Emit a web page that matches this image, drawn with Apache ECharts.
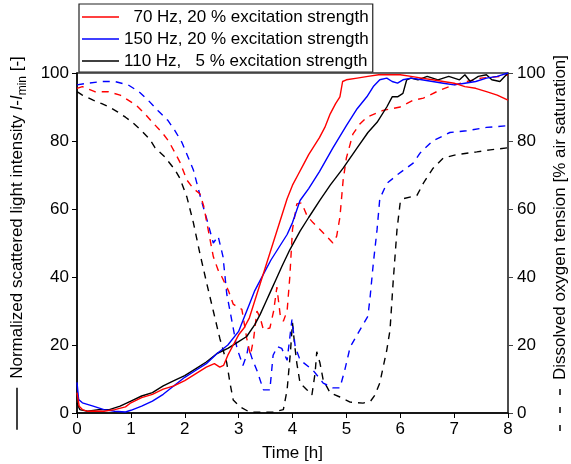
<!DOCTYPE html>
<html lang="en">
<head>
    <meta charset="utf-8">
    <title>Scattered light and DOT</title>
    <script src="https://cdn.jsdelivr.net/npm/echarts/dist/echarts.min.js"></script>
    <style>
        html, body { margin: 0; padding: 0; background: #fff; }
    </style>
</head>
<body>
<div id="main" style="width: 571px;height:464px;"></div>
<script>
    // scattered light, 70 Hz / 20 %
    var light70T = [0, 0.04, 0.1, 0.2, 0.3, 0.5, 0.7, 0.9, 1.0, 1.2, 1.4, 1.6, 1.8, 2.0, 2.2, 2.4, 2.55, 2.65, 2.72, 2.8, 2.9, 3.0, 3.1, 3.2, 3.3, 3.4, 3.5, 3.6, 3.7, 3.8, 3.9, 4.0, 4.1, 4.2, 4.3, 4.4, 4.5, 4.6, 4.7, 4.8, 4.88, 4.93, 5.0, 5.2, 5.4, 5.6, 5.8, 6.0, 6.2, 6.4, 6.6, 6.8, 7.0, 7.2, 7.4, 7.6, 7.8, 8.0];
    var light70V = [6, 2, 1, 0.5, 0.6, 0.5, 1, 1.8, 3, 4.5, 5.5, 7, 8, 9.5, 11.5, 13.5, 14.5, 13.5, 14, 17, 20, 23, 25, 28, 33, 38, 43, 48, 53, 58, 63, 67, 70, 73, 76, 78.5, 81, 84, 88, 91, 93, 97.5, 98, 98.5, 99, 99.5, 99.5, 99.5, 99, 98.5, 98, 97.5, 97, 96, 95.5, 94.5, 93.5, 92];

    // scattered light, 150 Hz / 20 %
    var light150T = [0, 0.03, 0.1, 0.3, 0.5, 0.7, 0.9, 1.0, 1.2, 1.4, 1.6, 1.8, 2.0, 2.2, 2.4, 2.6, 2.8, 3.0, 3.1, 3.2, 3.3, 3.4, 3.5, 3.6, 3.7, 3.8, 3.9, 4.0, 4.14, 4.3, 4.5, 4.75, 5.0, 5.2, 5.38, 5.5, 5.62, 5.75, 5.85, 5.95, 6.05, 6.2, 6.4, 6.6, 6.8, 7.0, 7.2, 7.4, 7.6, 7.8, 8.0];
    var light150V = [9, 4, 3, 2, 1, 0.5, 0.3, 0.8, 2, 3.5, 5.5, 8, 10.5, 12.5, 14.5, 17.5, 20, 24, 28, 32, 36, 39, 42, 45, 47.5, 50, 52.5, 56, 62.5, 66, 71, 78, 84.5, 89.5, 93, 96, 98, 98.5, 97.5, 97, 98, 98.5, 98, 97.5, 97, 96.5, 97, 97.5, 98.5, 99, 100];

    // scattered light, 110 Hz / 5 %
    var light110T = [0, 0.05, 0.2, 0.4, 0.6, 0.8, 1.0, 1.2, 1.4, 1.6, 1.8, 2.0, 2.2, 2.4, 2.6, 2.8, 3.0, 3.15, 3.3, 3.4, 3.5, 3.6, 3.7, 3.8, 3.95, 4.14, 4.3, 4.51, 4.7, 4.94, 5.2, 5.4, 5.57, 5.75, 5.85, 5.95, 6.05, 6.12, 6.2, 6.33, 6.5, 6.7, 6.9, 7.1, 7.2, 7.3, 7.45, 7.6, 7.7, 7.85, 8.0];
    var light110V = [3, 1, 0.5, 1, 1, 2, 3.5, 5, 6, 8, 9.5, 11, 13, 15, 17.5, 19, 21, 22.5, 26, 29, 32.5, 36, 39.5, 43, 48, 53.5, 57.5, 62.6, 67, 72, 78, 82.5, 85.5, 90, 93, 93, 94, 98, 98.5, 98, 99, 98, 99, 98, 99.5, 97.5, 99, 99.5, 98, 97.5, 100];

    // dissolved oxygen tension, 70 Hz / 20 %
    var dot70T = [0, 0.1, 0.33, 0.58, 0.8, 0.95, 1.1, 1.26, 1.4, 1.58, 1.7, 1.82, 1.91, 2.04, 2.16, 2.28, 2.35, 2.41, 2.53, 2.62, 2.69, 2.81, 2.9, 3.0, 3.06, 3.15, 3.22, 3.28, 3.34, 3.4, 3.46, 3.58, 3.65, 3.71, 3.77, 3.83, 3.9, 3.95, 4.0, 4.08, 4.17, 4.27, 4.38, 4.51, 4.63, 4.75, 4.82, 4.88, 4.94, 5.0, 5.12, 5.25, 5.38, 5.68, 6.0, 6.24, 6.43, 6.74, 7.0, 7.24, 7.5, 7.85, 8.0];
    var dot70V = [95.5, 96, 94.5, 94.5, 93.5, 92, 90.5, 88, 85.5, 82.5, 80, 76.5, 73.8, 68.5, 66, 64.5, 61, 56, 46, 42, 40, 36, 32, 31, 30.5, 22, 17, 22, 30, 28, 24.5, 25, 30, 37, 29, 27, 30, 40, 54, 61.5, 61.8, 58, 56, 54, 52, 50, 52, 57.6, 68.5, 75, 82, 85, 87, 89, 90, 92, 92.6, 95, 96.5, 97.5, 98.5, 99, 99.5];

    // dissolved oxygen tension, 150 Hz / 20 %
    var dot150T = [0, 0.2, 0.46, 0.7, 0.95, 1.15, 1.32, 1.5, 1.69, 1.82, 1.95, 2.16, 2.3, 2.4, 2.53, 2.62, 2.71, 2.78, 2.84, 2.97, 3.08, 3.15, 3.18, 3.25, 3.34, 3.46, 3.58, 3.64, 3.72, 3.8, 3.9, 3.99, 4.05, 4.14, 4.38, 4.57, 4.75, 4.88, 4.97, 5.07, 5.25, 5.4, 5.44, 5.5, 5.57, 5.62, 5.75, 5.94, 6.24, 6.37, 6.6, 6.92, 7.23, 7.6, 8.0];
    var dot150V = [96.5, 97, 97.5, 97.5, 96.5, 94.5, 92, 89, 86, 83, 79.5, 71.5, 63, 57.5, 50, 52, 46, 35, 30, 19, 14, 17, 19.5, 16, 12.5, 6.8, 6.8, 17, 19.5, 19, 15.5, 27.5, 19.5, 15.6, 12.6, 8.8, 7.4, 7.4, 12.6, 19.4, 24.4, 28.5, 34, 44, 54, 63, 67.5, 70, 73.5, 76.5, 80, 82.5, 83, 84, 84.5];

    // dissolved oxygen tension, 110 Hz / 5 %
    var dot110T = [0, 0.1, 0.3, 0.46, 0.6, 0.76, 0.9, 1.02, 1.2, 1.35, 1.45, 1.63, 1.82, 1.91, 2.04, 2.16, 2.28, 2.41, 2.53, 2.65, 2.78, 2.84, 2.9, 3.03, 3.2, 3.46, 3.64, 3.83, 3.9, 3.96, 4.0, 4.04, 4.08, 4.14, 4.27, 4.36, 4.42, 4.45, 4.51, 4.57, 4.7, 4.88, 5.07, 5.31, 5.45, 5.53, 5.62, 5.75, 5.81, 5.87, 5.94, 6.0, 6.05, 6.31, 6.43, 6.61, 6.8, 7.05, 7.42, 7.67, 8.0];
    var dot110V = [94.5, 93.5, 92, 91, 90, 88.5, 87, 85.6, 83, 80.5, 78, 75.3, 71.5, 69, 63.5, 56, 47, 38, 30, 22, 14.7, 8.8, 3.8, 1.8, 0.3, 0.2, 0.3, 1, 6.8, 17.6, 26.5, 20, 14.7, 8.8, 6.8, 5.3, 11.8, 18, 14.7, 9.7, 5.9, 4.7, 3.2, 2.9, 3.5, 5.3, 8.8, 18.5, 24.4, 39, 54, 62, 63, 64, 67.6, 72, 75, 76, 76.8, 77.4, 78];

    var legendNames = ['  70 Hz, 20 % excitation strength', '150 Hz, 20 % excitation strength', '110 Hz,   5 % excitation strength'];
    var xTicks = [0, 8, 1];
    var yTicks = [0, 100, 20];

    function zip(t, v) {
        var out = [];
        for (var i = 0; i < t.length; i++) {
            out.push([t[i], v[i]]);
        }
        return out;
    }

    var font = "'Liberation Sans', Arial, sans-serif";
    var myChart = echarts.init(document.getElementById('main'));

    function lineSeries(name, t, v, color, dashed, axis) {
        return {
            name: name,
            type: 'line',
            yAxisIndex: axis,
            data: zip(t, v),
            symbol: 'none',
            showSymbol: false,
            animation: false,
            lineStyle: {
                color: color,
                width: 1.4,
                type: dashed ? [7, 6] : 'solid'
            },
            itemStyle: { color: color }
        };
    }

    myChart.setOption({
        animation: false,
        textStyle: { fontFamily: font },
        grid: {
            left: 77,
            right: 63,
            top: 73,
            bottom: 51,
            containLabel: false,
            outerBoundsMode: 'none',
            show: true,
            borderColor: '#333',
            borderWidth: 1.5
        },
        legend: {
            data: legendNames,
            orient: 'vertical',
            left: 79,
            top: 4,
            padding: [3, 4, 1, 3],
            itemGap: 2,
            itemWidth: 37,
            itemHeight: 1.5,
            icon: 'rect',
            itemStyle: { borderWidth: 0 },
            borderColor: '#222',
            borderWidth: 1.2,
            backgroundColor: '#fff',
            textStyle: { fontSize: 17, color: '#000', lineHeight: 20, fontFamily: font }
        },
        xAxis: {
            type: 'value',
            min: xTicks[0],
            max: xTicks[1],
            interval: xTicks[2],
            name: 'Time [h]',
            nameLocation: 'middle',
            nameGap: 32,
            nameTextStyle: { fontSize: 17, color: '#000' },
            axisLine: { lineStyle: { color: '#000', width: 1.5 } },
            axisTick: { length: 5, lineStyle: { color: '#000' } },
            axisLabel: { fontSize: 17, color: '#000', margin: 8 },
            splitLine: { show: false }
        },
        yAxis: [
            {
                type: 'value',
                min: yTicks[0],
                max: yTicks[1],
                interval: yTicks[2],
                position: 'left',
                name: '{ln| }{gp| }Normalized scattered light intensity {it|I}-{it|I}{sub|min} [-]',
                nameLocation: 'middle',
                nameRotate: 90,
                nameGap: 48,
                nameTextStyle: {
                    fontSize: 17,
                    color: '#000',
                    lineHeight: 24,
                    rich: {
                        ln: { width: 42, height: 1.5, backgroundColor: '#000', lineHeight: 24 },
                        gp: { width: 9, lineHeight: 24 },
                        it: { fontStyle: 'italic', fontSize: 17, lineHeight: 24 },
                        sub: { fontSize: 12, lineHeight: 12, verticalAlign: 'bottom' }
                    }
                },
                axisLine: { show: true, lineStyle: { color: '#000', width: 1.5 } },
                axisTick: { show: true, length: 5, lineStyle: { color: '#000' } },
                axisLabel: { fontSize: 17, color: '#000', margin: 8 },
                splitLine: { show: false }
            },
            {
                type: 'value',
                min: yTicks[0],
                max: yTicks[1],
                interval: yTicks[2],
                position: 'right',
                name: '{ds| }{dg| }{ds| }{dg| }{ds| }{gp| }Dissolved oxygen tension [% air saturation]',
                nameLocation: 'middle',
                nameRotate: 90,
                nameGap: 42,
                nameMoveOverlap: false,
                nameTextStyle: {
                    fontSize: 17,
                    color: '#000',
                    lineHeight: 20,
                    rich: {
                        ds: { width: 6, height: 1.5, backgroundColor: '#000', lineHeight: 20 },
                        dg: { width: 12, lineHeight: 20 },
                        gp: { width: 9, lineHeight: 20 }
                    }
                },
                axisLine: { show: true, lineStyle: { color: '#444', width: 1.5 } },
                axisTick: { show: true, length: 5, lineStyle: { color: '#444' } },
                axisLabel: { fontSize: 17, color: '#000', margin: 9 },
                splitLine: { show: false }
            }
        ],
        series: [
            lineSeries('dot110', dot110T, dot110V, '#000', true, 1),
            lineSeries('dot150', dot150T, dot150V, '#0000ff', true, 1),
            lineSeries('dot70', dot70T, dot70V, '#ff0000', true, 1),
            lineSeries(legendNames[2], light110T, light110V, '#000', false, 0),
            lineSeries(legendNames[1], light150T, light150V, '#0000ff', false, 0),
            lineSeries(legendNames[0], light70T, light70V, '#ff0000', false, 0)
        ]
    });
</script>
</body>
</html>
